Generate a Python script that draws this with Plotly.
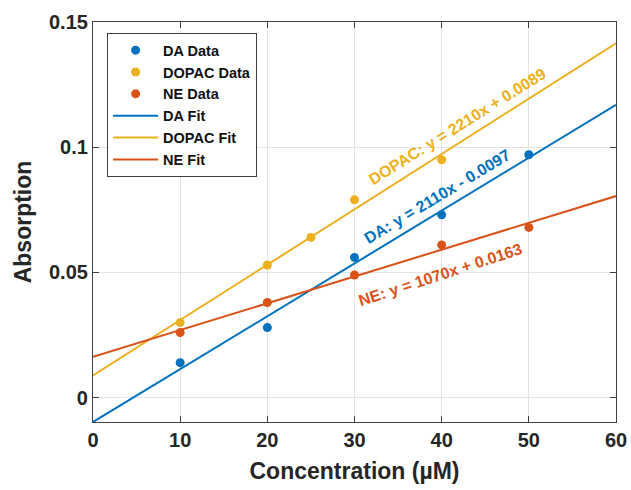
import plotly.graph_objects as go

# Data
conc_da = [10, 20, 30, 40, 50]
abs_da = [0.014, 0.028, 0.056, 0.073, 0.097]
conc_dopac = [10, 20, 25, 30, 40]
abs_dopac = [0.030, 0.053, 0.064, 0.079, 0.095]
conc_ne = [10, 20, 30, 40, 50]
abs_ne = [0.026, 0.038, 0.049, 0.061, 0.068]

# Fit parameters (slope per µM, intercept)
fit_names = ["DA", "DOPAC", "NE"]
fit_slopes = [0.00211, 0.00221, 0.00107]
fit_intercepts = [-0.0097, 0.0089, 0.0163]
fit_labels = ["DA: y = 2110x - 0.0097", "DOPAC: y = 2210x + 0.0089", "NE: y = 1070x + 0.0163"]
fit_x_range = [0, 60]

# label placement
label_x = [39.5, 41.8, 39.9]
label_y = [0.0802, 0.1081, 0.0491]
label_angle = [-31, -32, -18]

colors = {"DA": "#0072BD", "DOPAC": "#EDB120", "NE": "#D95319"}
FONT = "Liberation Sans, Arial, Helvetica, sans-serif"

fig = go.Figure()
for name, xs, ys in [("DA", conc_da, abs_da), ("DOPAC", conc_dopac, abs_dopac), ("NE", conc_ne, abs_ne)]:
    fig.add_trace(go.Scatter(x=xs, y=ys, mode="markers", name=f"<b>{name} Data</b>",
                             marker=dict(color=colors[name], size=9)))
for name, m, b in zip(fit_names, fit_slopes, fit_intercepts):
    fx = fit_x_range
    fy = [m * v + b for v in fx]
    fig.add_trace(go.Scatter(x=fx, y=fy, mode="lines", name=f"<b>{name} Fit</b>",
                             line=dict(color=colors[name], width=2)))

for name, txt, lx, ly, ang in zip(fit_names, fit_labels, label_x, label_y, label_angle):
    fig.add_annotation(x=lx, y=ly, text=f"<b>{txt}</b>", showarrow=False,
                       textangle=ang, font=dict(family=FONT, size=16, color=colors[name]),
                       xanchor="center", yanchor="middle")

axis_common = dict(showline=True, linecolor="#404040", linewidth=1.2, mirror="ticks",
                   ticks="inside", ticklen=6, tickcolor="#404040", showgrid=True,
                   gridcolor="#E3E3E3", gridwidth=1, zeroline=False, automargin=False,
                   tickfont=dict(family=FONT, size=20, color="#262626"))

fig.update_xaxes(range=[0, 60], tickvals=[0, 10, 20, 30, 40, 50, 60],
                 ticktext=["<b>%d</b>" % v for v in [0, 10, 20, 30, 40, 50, 60]],
                 title=dict(text="<b>Concentration (µM)</b>", font=dict(family=FONT, size=23, color="#262626"),
                            standoff=12),
                 **axis_common)
fig.update_yaxes(range=[-0.0097, 0.15], tickvals=[0, 0.05, 0.1, 0.15],
                 ticktext=["<b>0</b>", "<b>0.05</b>", "<b>0.1</b>", "<b>0.15</b>"],
                 title=dict(text="<b>Absorption</b>", font=dict(family=FONT, size=23, color="#262626"),
                            standoff=10),
                 **axis_common)

fig.update_layout(
    width=631, height=490,
    margin=dict(l=93, r=15, t=22, b=68),
    plot_bgcolor="white", paper_bgcolor="white",
    font=dict(family=FONT, color="#262626"),
    legend=dict(x=0.027, y=0.972, xanchor="left", yanchor="top",
                bgcolor="white", bordercolor="#404040", borderwidth=1,
                font=dict(family=FONT, size=14.5, color="#111111"),
                tracegroupgap=0, itemwidth=45),
    showlegend=True,
)

fig.write_html("out.html")
